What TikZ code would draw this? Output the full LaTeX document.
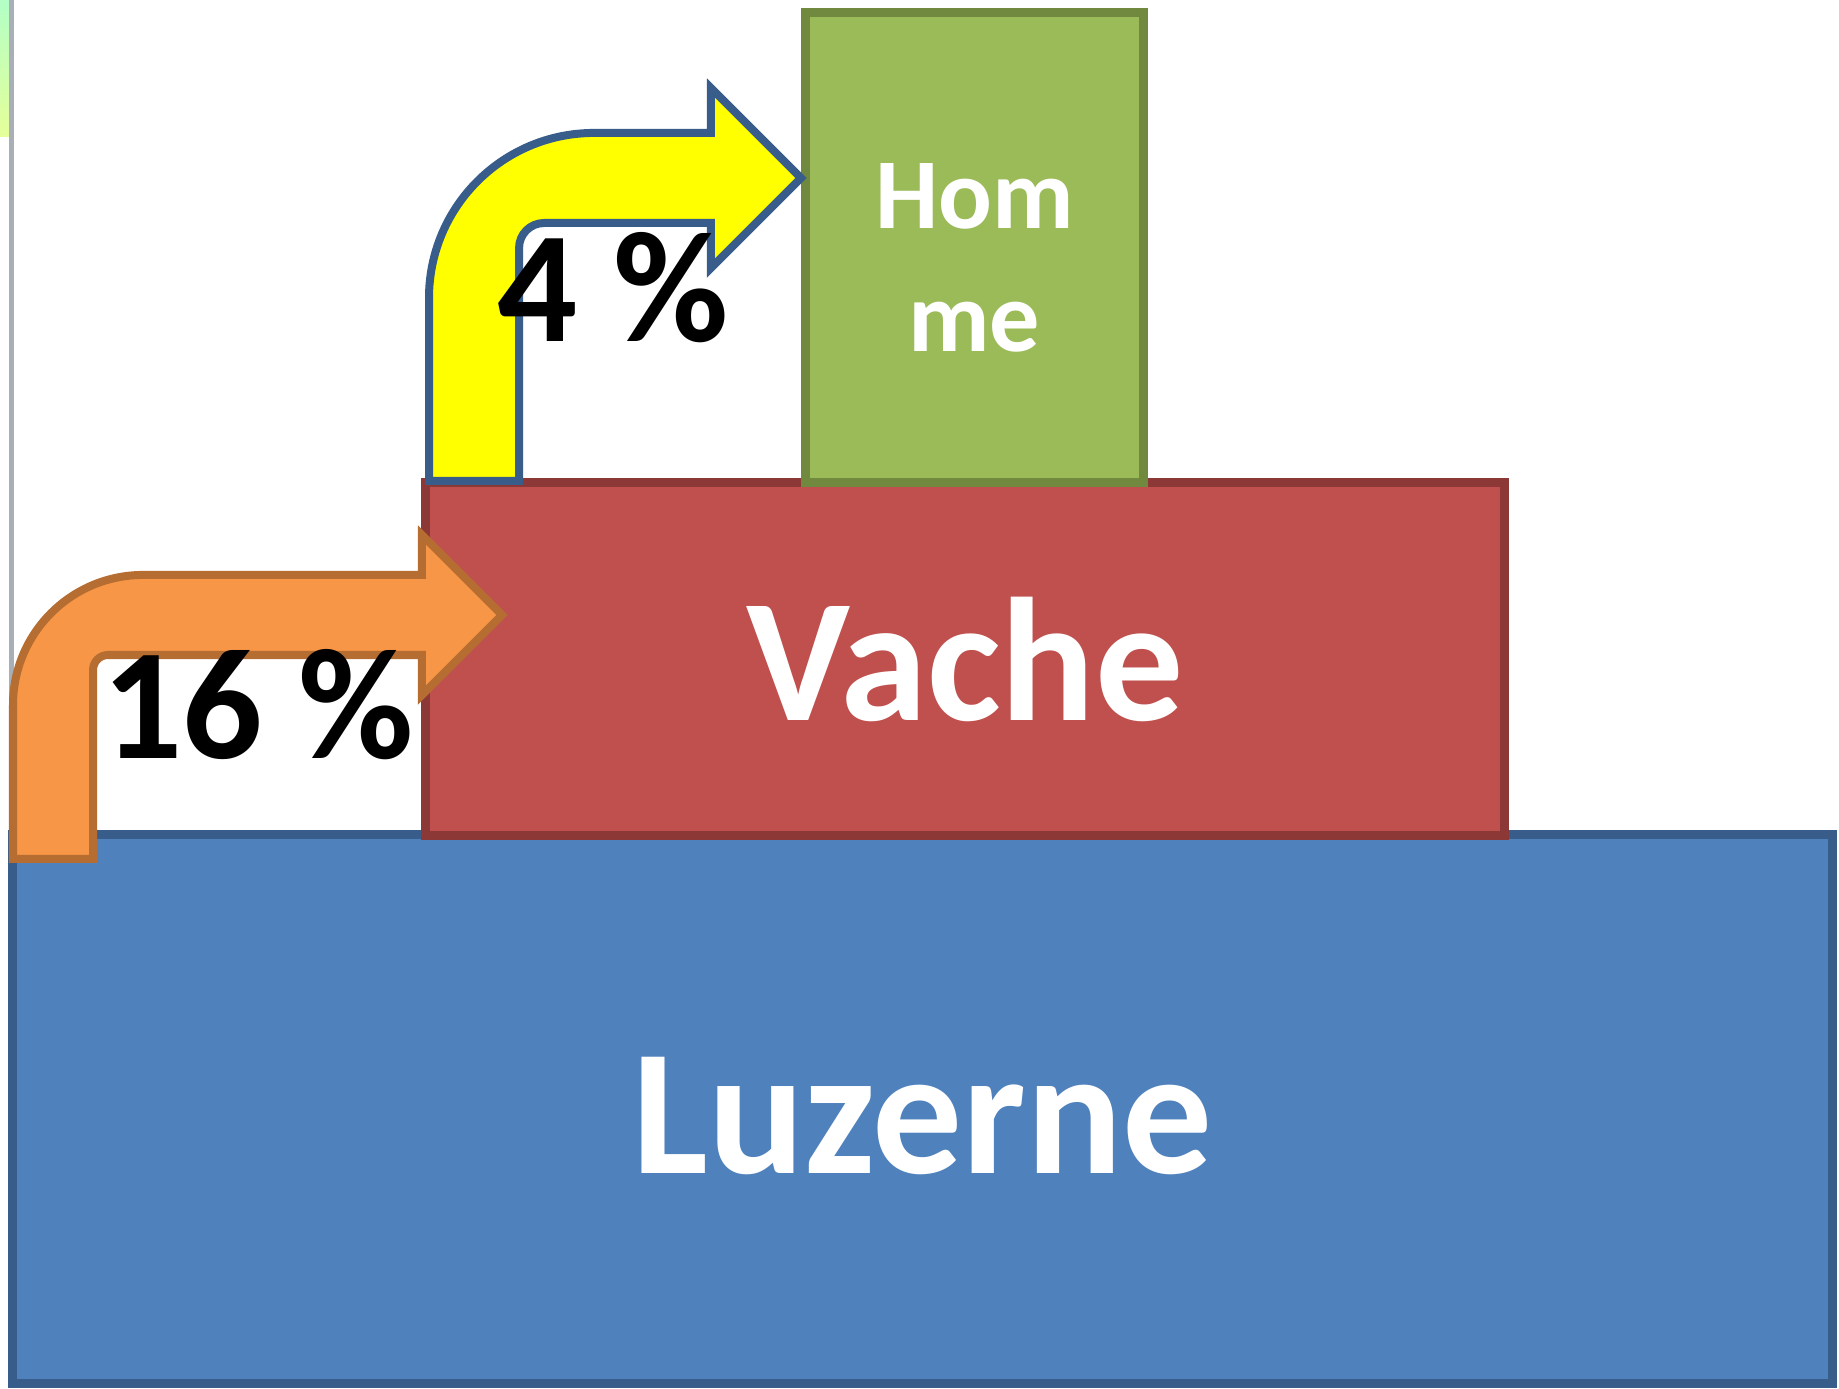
\documentclass[tikz,border=0pt]{standalone}
\usepackage{fontspec}
\setmainfont{Carlito}
\usetikzlibrary{calc}
\definecolor{luzernec}{HTML}{4F81BD}
\definecolor{luzernedc}{HTML}{385D8A}
\definecolor{vachec}{HTML}{C0504D}
\definecolor{vachedc}{HTML}{8C3836}
\definecolor{hommec}{HTML}{9BBB59}
\definecolor{hommedc}{HTML}{71893F}
\definecolor{orangec}{HTML}{F79646}
\definecolor{orangedc}{HTML}{B66D31}
\definecolor{yellowc}{HTML}{FFFF00}
\definecolor{framec}{HTML}{A9AFB6}

\tikzset{
  block/.style={draw, line width=0.09cm, inner sep=0pt, text=white},
  luzernebox/.style={block, fill=luzernec, draw=luzernedc, minimum width=18.18cm, minimum height=5.485cm,
    text height=1.31cm, font=\bfseries\fontsize{51}{60}\selectfont},
  vachebox/.style={block, fill=vachec, draw=vachedc, minimum width=10.79cm, minimum height=3.53cm,
    font=\bfseries\fontsize{50}{60}\selectfont},
  hommebox/.style={block, fill=hommec, draw=hommedc, minimum width=3.38cm, minimum height=4.7cm},
  hommelbl/.style={text=white, align=center, yshift=-0.1cm, font=\bfseries\fontsize{28.5}{35}\selectfont},
  pct/.style={inner sep=0pt, font=\bfseries\fontsize{45}{54}\selectfont},
  bentarr/.style={line width=0.08cm, line join=miter}
}

% bent block arrow: style, foot (outer corner), tip, shaft width, outer radius, inner radius
\newcommand{\bentarrow}[6]{%
  \filldraw[#1] let \p1=(#2), \p2=(#3), \n1={#4}, \n2={#5}, \n3={#6} in
    (\x1,\y1) -- (\x1,\y2+0.5*\n1-\n2)
    arc[start angle=180, end angle=90, radius=\n2]
    -- (\x2-\n1,\y2+0.5*\n1) -- (\x2-\n1,\y2+\n1) -- (\x2,\y2)
    -- (\x2-\n1,\y2-\n1) -- (\x2-\n1,\y2-0.5*\n1)
    -- (\x1+\n1+\n3,\y2-0.5*\n1)
    arc[start angle=90, end angle=180, radius=\n3]
    -- (\x1+\n1,\y1) -- cycle;}

\begin{document}
\begin{tikzpicture}[x=0.01cm, y=0.01cm]
\fill[white] (0,0) rectangle (1839,1389);
\useasboundingbox (0,0) rectangle (1839,1389);

% left edge of the screenshot
\shade[top color=cyan!25!green!30, bottom color=green!25!yellow!40] (0,1252) rectangle (9,1389);
\fill[framec] (9,559) rectangle (14,1389);

% levels
\node[luzernebox] (luzerne) at (922.5,280) {Luzerne};
\node[vachebox] (vache) at (965,730) {Vache};
\node[hommebox, label={[hommelbl]center:Hom\\me}] (homme) at (974.5,1141.5) {};

% transfers
\coordinate (ofoot) at (13,530);
\coordinate (otip) at (502,774);
\coordinate (yfoot) at (429,908);
\coordinate (ytip) at (801,1211);
\bentarrow{bentarr, fill=orangec, draw=orangedc}{ofoot}{otip}{0.80cm}{1.3cm}{0.15cm}
\bentarrow{bentarr, fill=yellowc, draw=luzernedc}{yfoot}{ytip}{0.90cm}{1.65cm}{0.25cm}

\node[pct] (p16) at (258,684) {16 \%};
\node[pct] (p4) at (613,1101) {4 \%};
\end{tikzpicture}
\end{document}
